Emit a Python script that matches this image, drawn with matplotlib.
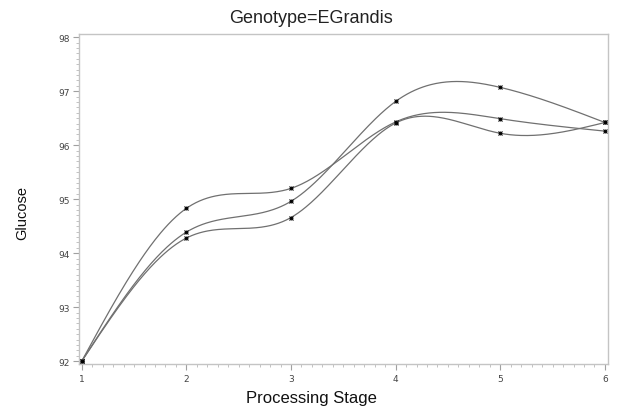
import numpy as np
import matplotlib
matplotlib.use("Agg")
import matplotlib.pyplot as plt
from matplotlib.ticker import MultipleLocator

stages = [1, 2, 3, 4, 5, 6]
series_a = [92.0, 94.83, 95.20, 96.43, 96.49, 96.26]
series_b = [92.0, 94.39, 94.96, 96.81, 97.07, 96.42]
series_c = [92.0, 94.28, 94.66, 96.41, 96.22, 96.42]
x_ticks = [1, 2, 3, 4, 5, 6]
y_ticks = [92, 93, 94, 95, 96, 97, 98]


def natural_spline(x, y, n=400):
    x = np.asarray(x, float)
    y = np.asarray(y, float)
    m = len(x)
    h = np.diff(x)
    A = np.zeros((m, m))
    r = np.zeros(m)
    A[0, 0] = 1
    A[-1, -1] = 1
    for i in range(1, m - 1):
        A[i, i - 1] = h[i - 1]
        A[i, i] = 2 * (h[i - 1] + h[i])
        A[i, i + 1] = h[i]
        r[i] = 6 * ((y[i + 1] - y[i]) / h[i] - (y[i] - y[i - 1]) / h[i - 1])
    M = np.linalg.solve(A, r)
    xs = np.linspace(x[0], x[-1], n)
    idx = np.clip(np.searchsorted(x, xs) - 1, 0, m - 2)
    x0, x1 = x[idx], x[idx + 1]
    hh = x1 - x0
    a = (x1 - xs) / hh
    b = (xs - x0) / hh
    ys = (a * y[idx] + b * y[idx + 1]
          + ((a ** 3 - a) * M[idx] + (b ** 3 - b) * M[idx + 1]) * hh ** 2 / 6)
    return xs, ys


fig = plt.figure(figsize=(6.23, 4.14), dpi=100)
ax = fig.add_axes([0.127, 0.118, 0.849, 0.797])

for s in (series_a, series_b, series_c):
    xs, ys = natural_spline(stages, s)
    ax.plot(xs, ys, color="#707070", lw=0.9)
    ax.plot(stages, s, ls="none", marker="x", color="black", ms=3, mew=0.8)
    ax.plot(stages, s, ls="none", marker="+", color="black", ms=3.5, mew=0.6)

ax.set_xlim(0.975, 6.03)
ax.set_ylim(91.945, 98.055)
ax.set_xticks(x_ticks)
ax.set_yticks(y_ticks)
ax.xaxis.set_minor_locator(MultipleLocator(0.1))
ax.yaxis.set_minor_locator(MultipleLocator(0.1))
for sp in ax.spines.values():
    sp.set_color("#c4c4c4")
    sp.set_linewidth(1.0)
ax.tick_params(which="major", length=4, width=0.8, color="#a0a0a0",
               labelsize=6.5, labelcolor="#444444", pad=3)
ax.tick_params(which="minor", length=2, width=0.6, color="#b8b8b8")

fig.text(0.5, 0.955, "Genotype=EGrandis", ha="center", va="center",
         fontsize=13, family="Liberation Sans", color="#222222")
fig.text(0.035, 0.485, "Glucose", ha="center", va="center", rotation=90,
         fontsize=10.5, family="Liberation Sans", color="#111111")
fig.text(0.5, 0.038, "Processing Stage", ha="center", va="center",
         fontsize=12, family="Liberation Sans", color="#111111")

fig.savefig("out.png", dpi=100)
